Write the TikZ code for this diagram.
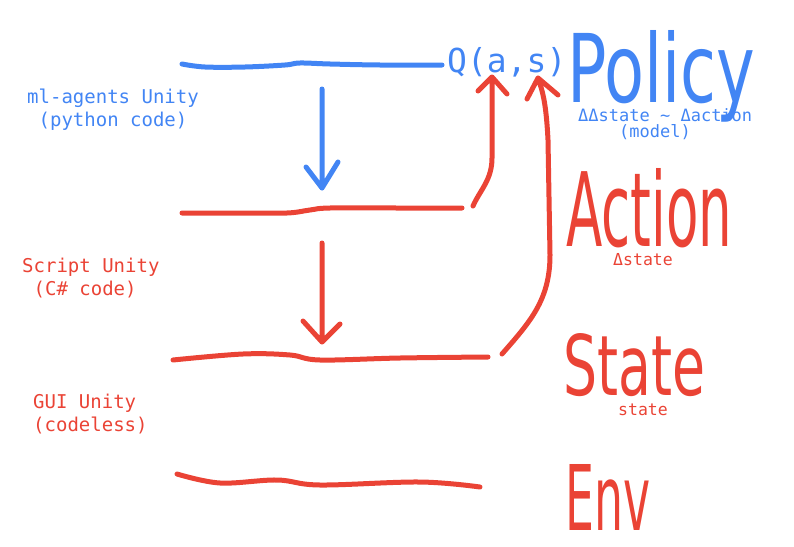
\documentclass[tikz,border=0pt]{standalone}
\usepackage{fontspec}
\usepackage{graphicx}
\newfontfamily\monof{DejaVu Sans Mono}
\newfontfamily\handf{DejaVu Sans}
\definecolor{gblue}{HTML}{4285F4}
\definecolor{gred}{HTML}{EA4335}
\begin{document}
\begin{tikzpicture}[x=1pt,y=-1pt,
  stroke/.style={line width=5pt,line cap=round,line join=round},
  bluestroke/.style={stroke,draw=gblue},
  redstroke/.style={stroke,draw=gred},
  lbl/.style={font=\monof\fontsize{19}{23}\selectfont,align=left,inner sep=0pt,anchor=west},
  smalltxt/.style={font=\monof\fontsize{16.5}{16}\selectfont,inner sep=0pt},
  hand/.style={inner sep=0pt,anchor=base west},
]
\useasboundingbox (0,0) rectangle (794,546);

% left labels
\node[lbl,text=gblue] (ml) at (27,109.5) {ml-agents Unity\\\phantom{0}(python code)};
\node[lbl,text=gred] (script) at (22,278.5) {Script Unity\\\phantom{0}(C\# code)};
\node[lbl,text=gred] (gui) at (33,414.5) {GUI Unity\\(codeless)};

% Q(a,s)
\node[inner sep=0pt,anchor=base west,text=gblue,font=\monof\fontsize{33}{33}\selectfont] (q) at (447,72) {Q(a,s)};

% big handwritten words
\node[hand,text=gblue] (policy) at (567,102) {\resizebox{188pt}{72pt}{\handf Policy}};
\node[hand,text=gred] (action) at (566,246) {\resizebox{166pt}{78pt}{\handf Action}};
\node[hand,text=gred] (state) at (563,395) {\resizebox{142pt}{62pt}{\handf State}};
\node[hand,text=gred] (env) at (565,530) {\resizebox{85pt}{66pt}{\handf Env}};

% small annotations
\node[smalltxt,text=gblue,font=\monof\fontsize{17}{16}\selectfont,align=left,anchor=north west] (model) at (578,108)
  {ΔΔstate \textasciitilde{} Δaction\\\phantom{0000}(model)};
\node[smalltxt,text=gred] (dstate) at (643,260) {Δstate};
\node[smalltxt,text=gred] (sstate) at (643,410) {state};

% level lines
\coordinate (pl0) at (182,64);
\draw[bluestroke] plot[smooth,tension=0.6] coordinates {(pl0) (205,67) (245,67) (285,65) (300,63) (330,64) (380,65) (442,65)};
\coordinate (al0) at (182,213);
\coordinate (al1) at (462,208);
\draw[redstroke] plot[smooth,tension=0.6] coordinates {(al0) (240,213) (287,213) (310,210) (330,208) (400,208) (al1)};
\coordinate (sl0) at (173,360);
\coordinate (sl1) at (488,357);
\draw[redstroke] plot[smooth,tension=0.6] coordinates {(sl0) (243,354) (290,355) (320,360) (400,358) (sl1)};
\coordinate (el0) at (177,474);
\draw[redstroke] plot[smooth,tension=0.6] coordinates {(el0) (220,483) (277,480) (320,485) (420,482) (480,487)};

% blue down arrow
\coordinate (bTop) at (322,89);
\coordinate (bTip) at (322,188);
\draw[bluestroke] (bTop) -- (bTip) (bTip) -- ++(-16,-21) (bTip) -- ++(16,-26);

% red down arrow
\coordinate (rTop) at (322,243);
\coordinate (rTip) at (322,342);
\draw[redstroke] (rTop) -- (rTip) (rTip) -- ++(-19,-21) (rTip) -- ++(18,-18);

% action -> a
\coordinate (aStart) at (473,206);
\coordinate (aTip) at (492,77);
\draw[redstroke] (aStart) .. controls (480,190) and (492,180) .. (492,158) -- (aTip)
  (aTip) -- ++(-14,14) (aTip) -- ++(15,17);

% state -> s
\coordinate (sStart) at (502,354);
\coordinate (sTip) at (538,78);
\draw[redstroke] (sStart) .. controls (530,322) and (550,300) .. (550,255) -- (548,140)
  .. controls (546,100) and (542,90) .. (sTip)
  (sTip) -- ++(-11,21) (sTip) -- ++(20,17);
\end{tikzpicture}
\end{document}
